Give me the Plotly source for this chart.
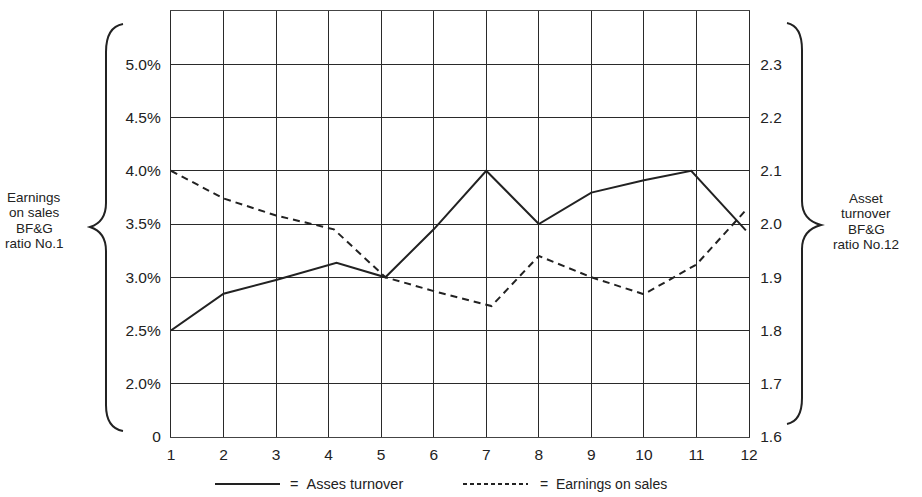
import plotly.graph_objects as go

# ---- data ----
months_asset = [1, 2, 3, 4.15, 5.08, 6, 7, 8, 9, 10, 10.9, 11.94]
asset_turnover = [1.80, 1.869, 1.895, 1.927, 1.90, 1.99, 2.10, 2.00, 2.059, 2.082, 2.10, 1.988]

months_earn = [1, 2, 3, 4.1, 5.08, 6, 7.1, 8, 9, 10, 11, 11.94]
earnings_pct = [4.00, 3.74, 3.58, 3.45, 3.00, 2.87, 2.73, 3.20, 3.00, 2.84, 3.12, 3.63]

x_ticks = list(range(1, 13))
left_tickvals = [1.5, 2.0, 2.5, 3.0, 3.5, 4.0, 4.5, 5.0]
left_ticktext = ["0", "2.0%", "2.5%", "3.0%", "3.5%", "4.0%", "4.5%", "5.0%"]
right_tickvals = [1.6, 1.7, 1.8, 1.9, 2.0, 2.1, 2.2, 2.3]
right_ticktext = ["1.6", "1.7", "1.8", "1.9", "2.0", "2.1", "2.2", "2.3"]

left_label = ["Earnings", "on sales", "BF&G", "ratio No.1"]
right_label = ["Asset", "turnover", "BF&G", "ratio No.12"]
legend_labels = ["=\u00a0\u00a0Asses turnover", "=\u00a0\u00a0Earnings on sales"]

# ---- geometry ----
W, H = 922, 497
PL, PR, PT, PB = 171, 749, 11, 437
INK = "#222222"
FONT = "Liberation Sans, Arial, Helvetica, sans-serif"


def px(x):
    return (x - PL) / (PR - PL)


def py(y):
    return (PB - y) / (PB - PT)


def brace(pts):
    out = []
    for cmd, coords in pts:
        out.append(cmd + " ".join(f"{px(a):.5f},{py(b):.5f}" for a, b in coords))
    return " ".join(out)


fig = go.Figure()
fig.add_trace(go.Scatter(x=months_asset, y=asset_turnover, mode="lines",
                         line=dict(color=INK, width=2), yaxis="y2",
                         name="Asses turnover", showlegend=False))
fig.add_trace(go.Scatter(x=months_earn, y=earnings_pct, mode="lines",
                         line=dict(color=INK, width=2, dash="7px,5px"), yaxis="y",
                         name="Earnings on sales", showlegend=False))

shapes = []
left_brace = brace([
    ("M", [(123, 24)]), ("Q", [(106, 27), (106, 52)]), ("L", [(106, 203)]),
    ("Q", [(106, 222), (90, 227)]), ("Q", [(106, 232), (106, 251)]),
    ("L", [(106, 405)]), ("Q", [(106, 428), (123, 431)]),
])
right_brace = brace([
    ("M", [(787, 23)]), ("Q", [(802, 26), (802, 50)]), ("L", [(802, 201)]),
    ("Q", [(802, 220), (821, 225)]), ("Q", [(802, 230), (802, 249)]),
    ("L", [(802, 398)]), ("Q", [(802, 421), (787, 424)]),
])
for p in (left_brace, right_brace):
    shapes.append(dict(type="path", path=p, xref="paper", yref="paper",
                       line=dict(color=INK, width=2)))

# legend samples
ly = py(484)
shapes.append(dict(type="line", xref="paper", yref="paper", x0=px(215), x1=px(280),
                   y0=ly, y1=ly, line=dict(color=INK, width=2)))
shapes.append(dict(type="line", xref="paper", yref="paper", x0=px(463), x1=px(528),
                   y0=ly, y1=ly, line=dict(color=INK, width=2, dash="4px,3px")))

annotations = []
for i, t in enumerate(left_label):
    annotations.append(dict(text=t, x=px(34), y=py(197 + 15.5 * i), xref="paper", yref="paper",
                            xanchor="center", yanchor="middle", showarrow=False,
                            font=dict(size=13.5, color=INK, family=FONT)))
for i, t in enumerate(right_label):
    annotations.append(dict(text=t, x=px(866), y=py(198 + 15.5 * i), xref="paper", yref="paper",
                            xanchor="center", yanchor="middle", showarrow=False,
                            font=dict(size=13.5, color=INK, family=FONT)))
annotations.append(dict(text=legend_labels[0], x=px(288), y=ly, xref="paper", yref="paper",
                        xanchor="left", yanchor="middle", showarrow=False,
                        font=dict(size=14.5, color=INK, family=FONT)))
annotations.append(dict(text=legend_labels[1], x=px(538), y=ly, xref="paper", yref="paper",
                        xanchor="left", yanchor="middle", showarrow=False,
                        font=dict(size=14, color=INK, family=FONT)))

grid = dict(showgrid=True, gridcolor="#2a2a2a", gridwidth=1.3, zeroline=False)

fig.update_layout(
    width=W, height=H,
    margin=dict(l=PL, r=W - PR, t=PT, b=H - PB, pad=0),
    paper_bgcolor="white", plot_bgcolor="white",
    font=dict(family=FONT, size=15, color=INK),
    showlegend=False,
    xaxis=dict(range=[1, 12], tickvals=x_ticks, **grid,
               showline=True, linecolor="#444444", linewidth=1.3, mirror=True,
               ticks="outside", ticklen=3, tickcolor="rgba(0,0,0,0)",
               tickfont=dict(size=15.5, color=INK)),
    yaxis=dict(range=[1.5, 5.5], tickvals=left_tickvals, ticktext=left_ticktext, **grid,
               showline=True, linecolor="#2a2a2a", linewidth=1.3,
               ticks="outside", ticklen=6, tickcolor="rgba(0,0,0,0)",
               tickfont=dict(size=15.5, color=INK)),
    yaxis2=dict(range=[1.6, 2.4], tickvals=right_tickvals, ticktext=right_ticktext,
                overlaying="y", side="right", showgrid=False, zeroline=False,
                showline=True, linecolor="#2a2a2a", linewidth=1.3,
                ticks="outside", ticklen=7, tickcolor="rgba(0,0,0,0)",
                tickfont=dict(size=15.5, color=INK)),
    shapes=shapes,
    annotations=annotations,
)

fig.write_html("out.html", config={"displayModeBar": False},
               post_script="document.body.style.margin='0px';")
